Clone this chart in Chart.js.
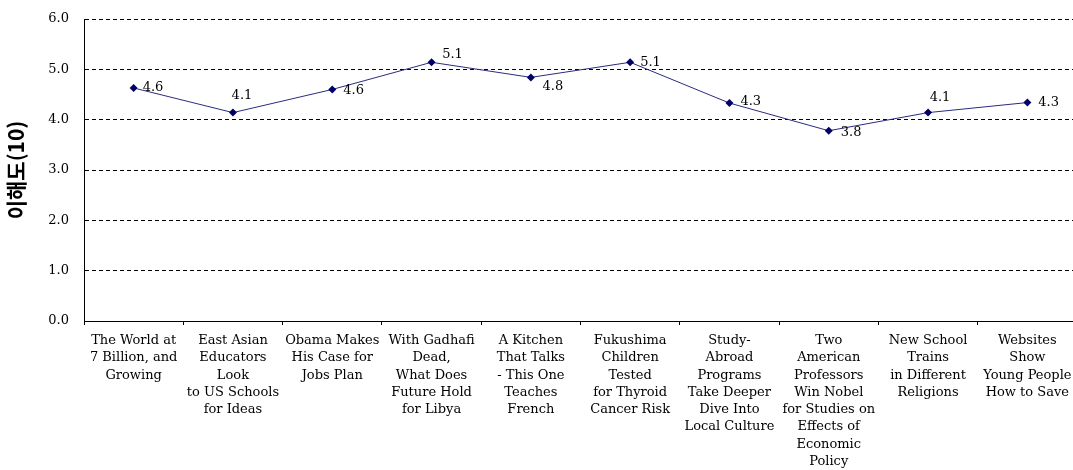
<!DOCTYPE html>
<html>
<head>
<meta charset="utf-8">
<script src="https://cdn.jsdelivr.net/npm/chart.js@4"></script>
<style>
  html, body { margin: 0; padding: 0; background: #fff; overflow: hidden; }
  #wrap { width: 1077px; height: 470px; }
</style>
</head>
<body>
<div id="wrap"><canvas id="lineChart"></canvas></div>
<script>
var categories = [
    ['The World at', '7 Billion, and', 'Growing'],
    ['East Asian', 'Educators', 'Look', 'to US Schools', 'for Ideas'],
    ['Obama Makes', 'His Case for', 'Jobs Plan'],
    ['With Gadhafi', 'Dead,', 'What Does', 'Future Hold', 'for Libya'],
    ['A Kitchen', 'That Talks', '- This One', 'Teaches', 'French'],
    ['Fukushima', 'Children', 'Tested', 'for Thyroid', 'Cancer Risk'],
    ['Study-', 'Abroad', 'Programs', 'Take Deeper', 'Dive Into', 'Local Culture'],
    ['Two', 'American', 'Professors', 'Win Nobel', 'for Studies on', 'Effects of', 'Economic', 'Policy'],
    ['New School', 'Trains', 'in Different', 'Religions'],
    ['Websites', 'Show', 'Young People', 'How to Save']
];
var scores = [4.63, 4.14, 4.60, 5.14, 4.84, 5.14, 4.33, 3.78, 4.14, 4.34];
var yTicks = [0, 1, 2, 3, 4, 5, 6];

// where each value label sits relative to its point: [dx, dy, align]
var labelPos = [
    [9, 0, 'left'], [9, -17, 'center'], [11, 1, 'left'], [21, -8, 'center'], [22, 9, 'center'],
    [10, 0, 'left'], [11, -1, 'left'], [12, 2, 'left'], [12, -15, 'center'], [11, 0, 'left']
];

var serif = '"DejaVu Serif", "Liberation Serif", serif';

const valueLabels = {
    id: 'valueLabels',
    afterDatasetsDraw(chart) {
        const ctx = chart.ctx;
        const meta = chart.getDatasetMeta(0);
        ctx.save();
        ctx.font = '13px ' + serif;
        ctx.fillStyle = '#000';
        ctx.textBaseline = 'middle';
        meta.data.forEach((pt, i) => {
            const p = labelPos[i];
            ctx.textAlign = p[2];
            ctx.fillText(scores[i].toFixed(1), pt.x + p[0], pt.y + p[1]);
        });
        ctx.restore();
    }
};

const ctx = document.getElementById('lineChart').getContext('2d');
const lineChart = new Chart(ctx, {
    type: 'line',
    data: {
        labels: categories,
        datasets: [{
            data: scores,
            borderColor: '#2a2a80',
            borderWidth: 1,
            backgroundColor: '#000066',
            pointStyle: 'rectRot',
            pointRadius: 4,
            pointBorderWidth: 0,
            tension: 0
        }]
    },
    options: {
        responsive: true,
        maintainAspectRatio: false,
        animation: false,
        layout: { autoPadding: false, padding: { top: 19, right: 0, left: 0, bottom: 0 } },
        plugins: {
            legend: { display: false },
            tooltip: { enabled: false }
        },
        scales: {
            x: {
                offset: true,
                grid: {
                    offset: true,
                    drawOnChartArea: false,
                    tickLength: 4,
                    color: '#000'
                },
                border: { color: '#000', width: 1 },
                ticks: {
                    autoSkip: false,
                    maxRotation: 0,
                    minRotation: 0,
                    padding: 7,
                    color: '#000',
                    font: { family: serif, size: 13, lineHeight: 1.33 }
                },
                afterFit: function(scale) {
                    scale.height = 149;
                    scale.paddingLeft = 0;
                    scale.paddingRight = 0;
                }
            },
            y: {
                min: 0,
                max: 6,
                afterBuildTicks: function(scale) {
                    scale.ticks = yTicks.map(v => ({ value: v }));
                },
                grid: {
                    drawTicks: false,
                    color: '#000',
                    lineWidth: 1
                },
                border: { color: '#000', width: 1, dash: [4, 3] },
                ticks: {
                    padding: 15,
                    color: '#000',
                    font: { family: serif, size: 13 },
                    callback: function(v) { return Number(v).toFixed(1); }
                },
                title: {
                    display: true,
                    text: '이해도(10)',
                    color: '#000',
                    padding: { top: 3, bottom: 0 },
                    font: { family: '"Noto Sans CJK KR", sans-serif', size: 21, weight: 'bold' }
                },
                afterFit: function(scale) {
                    scale.width = 84;
                    scale.paddingTop = 0;
                    scale.paddingBottom = 0;
                }
            }
        }
    },
    plugins: [valueLabels]
});
</script>
</body>
</html>
